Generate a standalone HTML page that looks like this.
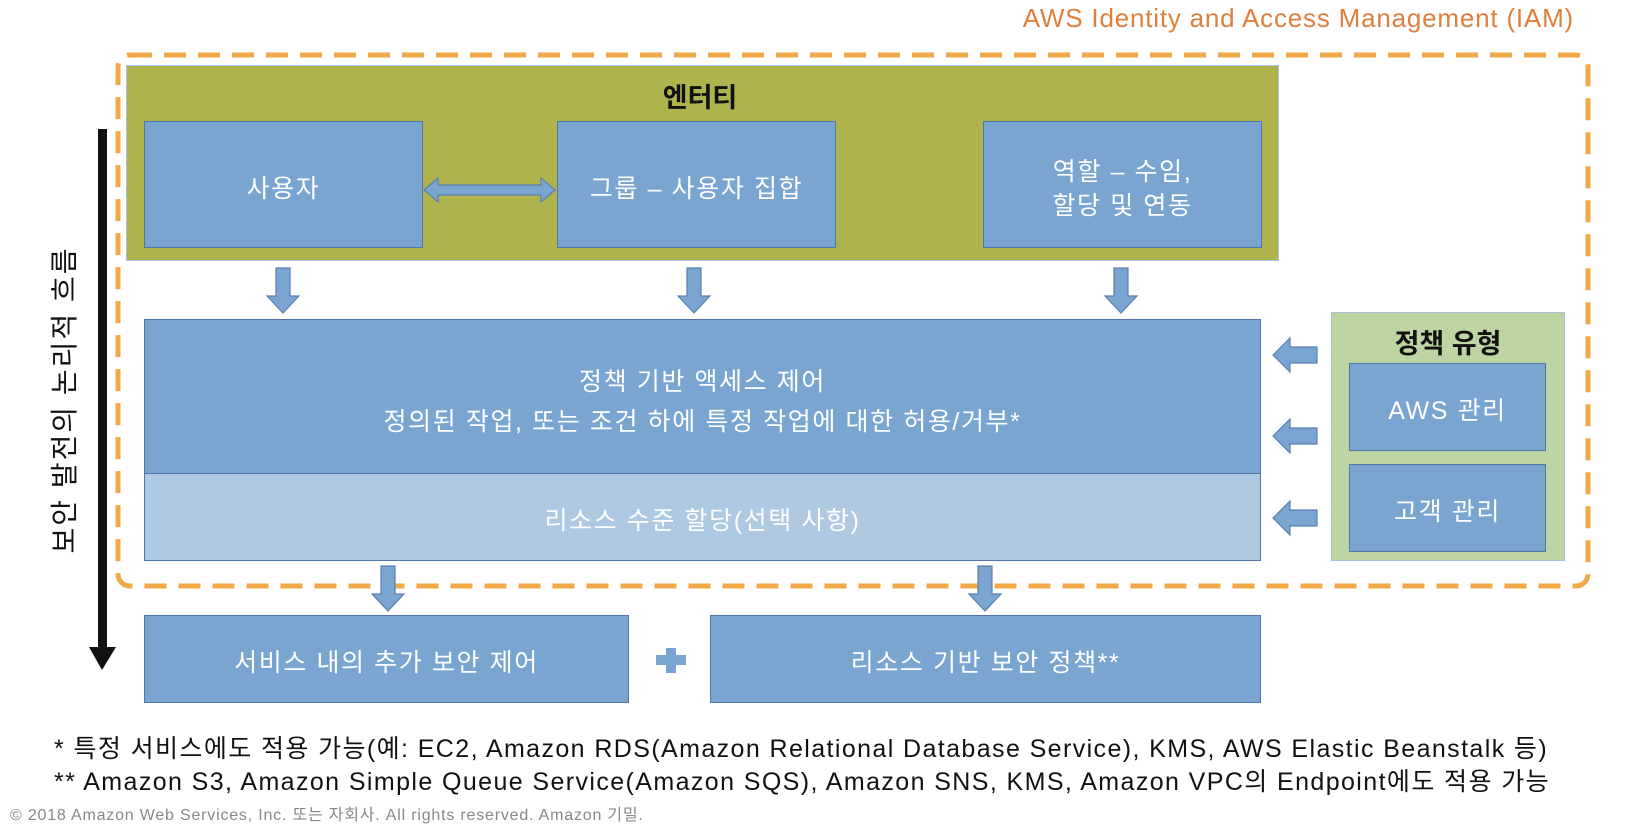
<!DOCTYPE html>
<html><head><meta charset="utf-8"><style>
body{margin:0;width:1650px;height:834px;background:#fff;position:relative;overflow:hidden;font-family:"Liberation Sans","Noto Sans CJK KR",sans-serif}
.a{position:absolute;box-sizing:border-box}
.b{background:#7aa5d1;border:1.5px solid #4f76a6;color:#fff;font-size:25px;letter-spacing:1.6px;display:flex;align-items:center;justify-content:center;text-align:center;line-height:1.35;padding-top:10px}
.t{position:absolute;white-space:nowrap}
</style></head><body>
<div class="t" style="right:76px;top:3px;font-size:26px;letter-spacing:0.8px;color:#e07e3c">AWS Identity and Access Management (IAM)</div>
<svg class="a" style="left:0;top:0" width="1650" height="834">
<rect x="118" y="55" width="1470" height="531" rx="12" fill="none" stroke="#f0a848" stroke-width="5" stroke-dasharray="22 12"/>
</svg>
<div class="a" style="left:126px;top:65px;width:1153px;height:196px;background:#afb34e;border:1px solid #a8c0dd"></div>
<div class="t" style="left:600px;width:200px;text-align:center;top:76px;font-size:27px;font-weight:bold;color:#111">엔터티</div>
<div class="a b" style="left:144px;top:121px;width:279px;height:127px">사용자</div>
<div class="a b" style="left:557px;top:121px;width:279px;height:127px">그룹 – 사용자 집합</div>
<div class="a b" style="left:983px;top:121px;width:279px;height:127px">역할 – 수임,<br>할당 및 연동</div>
<div class="a b" style="left:144px;top:319px;width:1117px;height:156px;line-height:1.6">정책 기반 액세스 제어<br>정의된 작업, 또는 조건 하에 특정 작업에 대한 허용/거부*</div>
<div class="a b" style="left:144px;top:473px;width:1117px;height:88px;background:#b0c9e3">리소스 수준 할당(선택 사항)</div>
<div class="a" style="left:1331px;top:312px;width:234px;height:249px;background:#bcd5a2;border:1px solid #a8c0dd"></div>
<div class="t" style="left:1331px;width:234px;text-align:center;top:322px;font-size:27px;font-weight:bold;color:#111">정책 유형</div>
<div class="a b" style="left:1349px;top:363px;width:197px;height:88px">AWS 관리</div>
<div class="a b" style="left:1349px;top:464px;width:197px;height:88px">고객 관리</div>
<div class="a b" style="left:144px;top:615px;width:485px;height:88px">서비스 내의 추가 보안 제어</div>
<div class="a b" style="left:710px;top:615px;width:551px;height:88px">리소스 기반 보안 정책**</div>
<svg class="a" style="left:0;top:0" width="1650" height="834">
<defs>
<polygon id="d" points="-7,0 7,0 7,28 16,28 0,45 -16,28 -7,28"/>
<polygon id="l" points="0,0 17,-17 17,-8 44,-8 44,8 17,8 17,17"/>
</defs>
<g fill="#7aa5d1" stroke="#5a80b0" stroke-width="1.2">
<polygon points="424,190 438,178 438,185 541,185 541,178 555,190 541,202 541,195 438,195 438,202"/>
<use href="#d" x="283" y="268"/><use href="#d" x="694" y="268"/><use href="#d" x="1121" y="268"/>
<use href="#d" x="388" y="566"/><use href="#d" x="985" y="566"/>
<use href="#l" x="1273" y="355"/><use href="#l" x="1273" y="436"/><use href="#l" x="1273" y="518"/>
<polygon points="666,648 676,648 676,655 686,655 686,665 676,665 676,673 666,673 666,665 656,665 656,655 666,655" stroke="none"/>
</g>
<rect x="98" y="129" width="9" height="520" fill="#111"/>
<polygon points="89,647 116,647 102,670" fill="#111"/>
</svg>
<div class="t" style="left:63px;top:400px;transform:translate(-50%,-50%) rotate(-90deg);font-size:28px;color:#111;letter-spacing:2px">보안 발전의 논리적 흐름</div>
<div class="t" style="left:54px;top:729px;font-size:25px;letter-spacing:1.4px;color:#111">* 특정 서비스에도 적용 가능(예: EC2, Amazon RDS(Amazon Relational Database Service), KMS, AWS Elastic Beanstalk 등)</div>
<div class="t" style="left:54px;top:762px;font-size:25px;letter-spacing:1.4px;color:#111">** Amazon S3, Amazon Simple Queue Service(Amazon SQS), Amazon SNS, KMS, Amazon VPC의 Endpoint에도 적용 가능</div>
<div class="t" style="left:10px;top:801px;font-size:16px;letter-spacing:0.8px;color:#888">© 2018 Amazon Web Services, Inc. 또는 자회사. All rights reserved. Amazon 기밀.</div>
</body></html>
